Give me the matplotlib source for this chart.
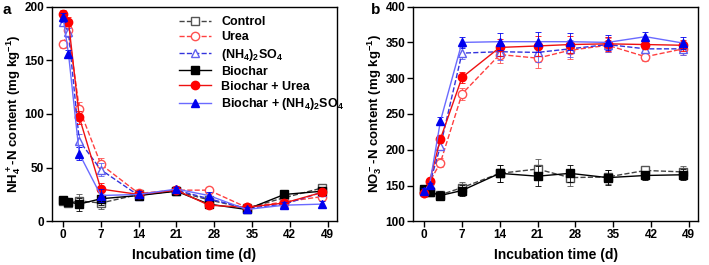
import matplotlib.pyplot as plt
import numpy as np

plt.rcParams['font.family'] = ['Liberation Sans', 'DejaVu Sans']
plt.rcParams['font.weight'] = 'bold'
plt.rcParams['axes.labelweight'] = 'bold'
plt.rcParams['font.size'] = 9
plt.rcParams['mathtext.fontset'] = 'custom'
plt.rcParams['mathtext.rm'] = 'Liberation Sans:bold'
plt.rcParams['mathtext.bf'] = 'Liberation Sans:bold'
plt.rcParams['mathtext.default'] = 'bf'
plt.rcParams['axes.linewidth'] = 1.0

days = [0, 1, 3, 7, 14, 21, 27, 34, 41, 48]
xticks = [0, 7, 14, 21, 28, 35, 42, 49]

# NH4+-N (panel a)
nh4_control = [19, 17, 19, 17, 25, 28, 20, 12, 22, 31]
nh4_urea = [165, 178, 105, 53, 26, 29, 29, 13, 18, 23]
nh4_as = [186, 176, 75, 48, 24, 29, 21, 12, 16, 27]
nh4_bc = [20, 18, 16, 21, 24, 28, 16, 11, 25, 28]
nh4_bc_urea = [193, 186, 97, 30, 25, 29, 15, 13, 17, 27]
nh4_bc_as = [190, 156, 63, 24, 25, 30, 24, 11, 15, 16]
nh4_err = [4, 4, 6, 6, 3, 2, 3, 2, 3, 3]

# NO3--N (panel b)
no3_control = [143, 141, 137, 147, 167, 173, 161, 162, 171, 169]
no3_urea = [140, 155, 182, 278, 333, 328, 339, 346, 330, 341]
no3_as = [143, 152, 205, 335, 337, 336, 341, 347, 341, 341]
no3_bc = [145, 141, 136, 143, 167, 163, 167, 161, 164, 165]
no3_bc_urea = [140, 156, 215, 301, 343, 345, 347, 348, 347, 346]
no3_bc_as = [143, 151, 240, 350, 351, 351, 351, 350, 358, 349]
no3_err = [3, 3, 6, 8, 12, 14, 12, 10, 6, 8]

labels = ['Control', 'Urea', '(NH$_4$)$_2$SO$_4$',
          'Biochar', 'Biochar + Urea', 'Biochar + (NH$_4$)$_2$SO$_4$']
styles = [
    dict(color='#444444', ls='--', marker='s', mfc='white', mec='#555555'),
    dict(color='#ff4040', ls='--', marker='o', mfc='white', mec='#ff5050'),
    dict(color='#3333dd', ls='--', marker='^', mfc='white', mec='#6060ee'),
    dict(color='black', ls='-', marker='s', mfc='black', mec='black'),
    dict(color='#ee1111', ls='-', marker='o', mfc='#ff0000', mec='#ff0000'),
    dict(color='#6a6aff', ls='-', marker='^', mfc='#0000ee', mec='#0000ee'),
]

fig, (ax1, ax2) = plt.subplots(1, 2, figsize=(7.09, 2.65), dpi=100)
fig.subplots_adjust(left=0.073, right=0.985, top=0.975, bottom=0.165, wspace=0.265)

series_a = [nh4_control, nh4_urea, nh4_as, nh4_bc, nh4_bc_urea, nh4_bc_as]
series_b = [no3_control, no3_urea, no3_as, no3_bc, no3_bc_urea, no3_bc_as]

for ax, series, err in [(ax1, series_a, nh4_err), (ax2, series_b, no3_err)]:
    for y, lab, st in zip(series, labels, styles):
        ax.errorbar(days, y, yerr=err, fmt='none', ecolor=st['mec'],
                    elinewidth=0.6, capsize=2, capthick=0.6)
        ax.plot(days, y, label=lab, color=st['color'], ls=st['ls'],
                marker=st['marker'], mfc=st['mfc'], mec=st['mec'], ms=6, lw=1.0)
    ax.set_xlim(-2.1, 50.8)
    ax.set_xticks(xticks)
    ax.set_xlabel('Incubation time (d)', fontsize=10, labelpad=5)
    ax.tick_params(direction='out', length=4, width=1, pad=1.5, labelsize=8.5)

ax1.set_ylim(0, 200)
ax1.set_yticks([0, 50, 100, 150, 200])
ax1.set_ylabel('NH$_4^+$-N content (mg kg$^{-1}$)', fontsize=9.5, labelpad=1)
ax2.set_ylim(100, 400)
ax2.set_yticks([100, 150, 200, 250, 300, 350, 400])
ax2.set_ylabel('NO$_3^-$-N content (mg kg$^{-1}$)', fontsize=9.5, labelpad=1)

ax1.legend(loc='upper right', frameon=False, fontsize=9, handlelength=2.6,
           labelspacing=0.25, borderaxespad=0.2, bbox_to_anchor=(1.05, 0.99))

fig.text(0.004, 0.99, 'a', fontsize=11, fontweight='bold', va='top')
fig.text(0.523, 0.99, 'b', fontsize=11, fontweight='bold', va='top')

fig.savefig('out.png', dpi=100)
